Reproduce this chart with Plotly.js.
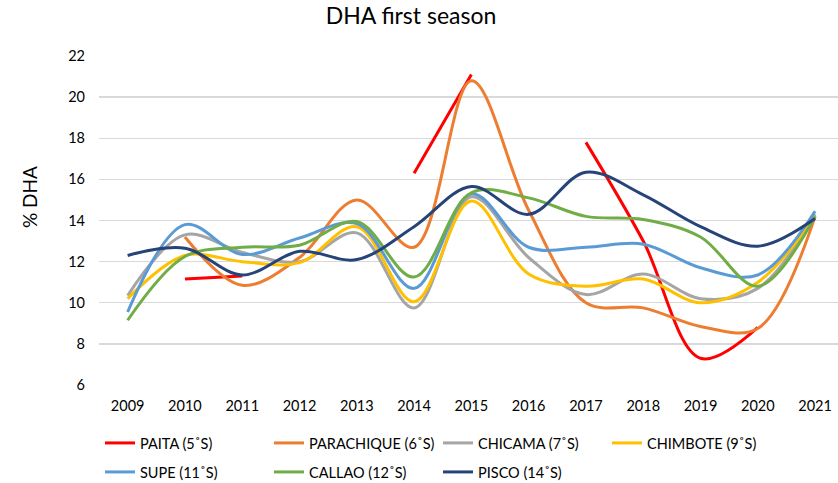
<!DOCTYPE html>
<html>
<head>
<meta charset="utf-8">
<script src="https://cdn.plot.ly/plotly-3.0.1.min.js"></script>
<style>html,body{margin:0;padding:0;background:#fff;}#chart{width:838px;height:483px;}</style>
</head>
<body>
<div id="chart"></div>
<script>
var years = ['2009','2010','2011','2012','2013','2014','2015','2016','2017','2018','2019','2020','2021'];
var seriesNames = ['PAITA (5˚S)','PARACHIQUE (6˚S)','CHICAMA (7˚S)','CHIMBOTE (9˚S)','SUPE (11˚S)','CALLAO (12˚S)','PISCO (14˚S)'];
var paita      = [null, 11.15, 11.3, null, null, 16.3, 21.1, null, 17.8, 13.0, 7.3, 8.8, null];
var parachique = [null, 13.2, 10.85, 12.2, 15.0, 12.7, 20.8, 14.5, 10.0, 9.75, 8.85, 8.75, 14.2];
var chicama    = [10.35, 13.3, 12.45, 12.0, 13.4, 9.75, 15.15, 12.2, 10.4, 11.4, 10.2, 10.7, 14.3];
var chimbote   = [10.2, 12.3, 12.0, 11.95, 13.7, 10.05, 14.95, 11.4, 10.8, 11.15, 10.0, 11.0, 14.2];
var supe       = [9.55, 13.8, 12.35, 13.15, 13.85, 10.7, 15.3, 12.7, 12.7, 12.85, 11.7, 11.35, 14.45];
var callao     = [9.15, 12.25, 12.7, 12.8, 13.95, 11.25, 15.35, 15.1, 14.2, 14.05, 13.2, 10.8, 14.2];
var pisco      = [12.3, 12.65, 11.35, 12.5, 12.1, 13.7, 15.65, 14.3, 16.35, 15.25, 13.7, 12.75, 14.1];
var colors = ['#FF0000','#ED7D31','#A5A5A5','#FFC000','#5B9BD5','#70AD47','#264478'];
var allSeries = [paita, parachique, chicama, chimbote, supe, callao, pisco];

var FONT = 'Lato, "Open Sans", sans-serif';
var traces = allSeries.map(function(vals, i){
  return {
    x: years, y: vals, name: seriesNames[i], type: 'scatter', mode: 'lines',
    line: {color: colors[i], width: 3, shape: 'spline', smoothing: 1},
    connectgaps: false,
    legend: i < 4 ? 'legend' : 'legend2'
  };
});

var legendBase = {
  orientation: 'h', xanchor: 'left', yanchor: 'top', xref: 'container', yref: 'container',
  font: {family: FONT, size: 14.5, color: '#000'},
  entrywidth: 124, entrywidthmode: 'pixels',
  bgcolor: 'rgba(0,0,0,0)', itemclick: false
};
var legend1 = Object.assign({}, legendBase, {x: 100/838, y: 1 - 427/483});
var legend2 = Object.assign({}, legendBase, {x: 100/838, y: 1 - 456/483});

var layout = {
  width: 838, height: 483,
  margin: {l: 99, r: 0, t: 56, b: 98, autoexpand: false},
  paper_bgcolor: '#fff', plot_bgcolor: '#fff',
  font: {family: FONT, size: 14, color: '#000'},
  title: {text: 'DHA first season', x: 411/838, xref: 'container', xanchor: 'center',
          y: 1 - 15.5/483, yref: 'container', yanchor: 'middle',
          font: {family: FONT, size: 23, color: '#000'}},
  xaxis: {type: 'category', range: [-0.5, 12.4], showgrid: false, zeroline: false,
          showline: false, ticks: '', tickfont: {family: FONT, size: 14.5, color: '#000'},
          ticklabelstandoff: 10, fixedrange: true, automargin: false},
  yaxis: {range: [6, 22], dtick: 2, tick0: 6, showgrid: true, gridcolor: '#D9D9D9', gridwidth: 1.3,
          zeroline: false, showline: false, ticks: '', automargin: false,
          tickfont: {family: FONT, size: 14.5, color: '#000'}, ticklabelstandoff: 13, fixedrange: true},
  showlegend: true,
  legend: legend1,
  legend2: legend2,
  annotations: [{
    text: '% DHA', textangle: -90, xref: 'paper', yref: 'paper',
    x: (29 - 99) / 739, y: (385 - 197) / 329, xanchor: 'center', yanchor: 'middle',
    showarrow: false, font: {family: FONT, size: 19, color: '#000'}
  }]
};

Plotly.newPlot('chart', traces, layout, {displayModeBar: false, staticPlot: true});
</script>
</body>
</html>
